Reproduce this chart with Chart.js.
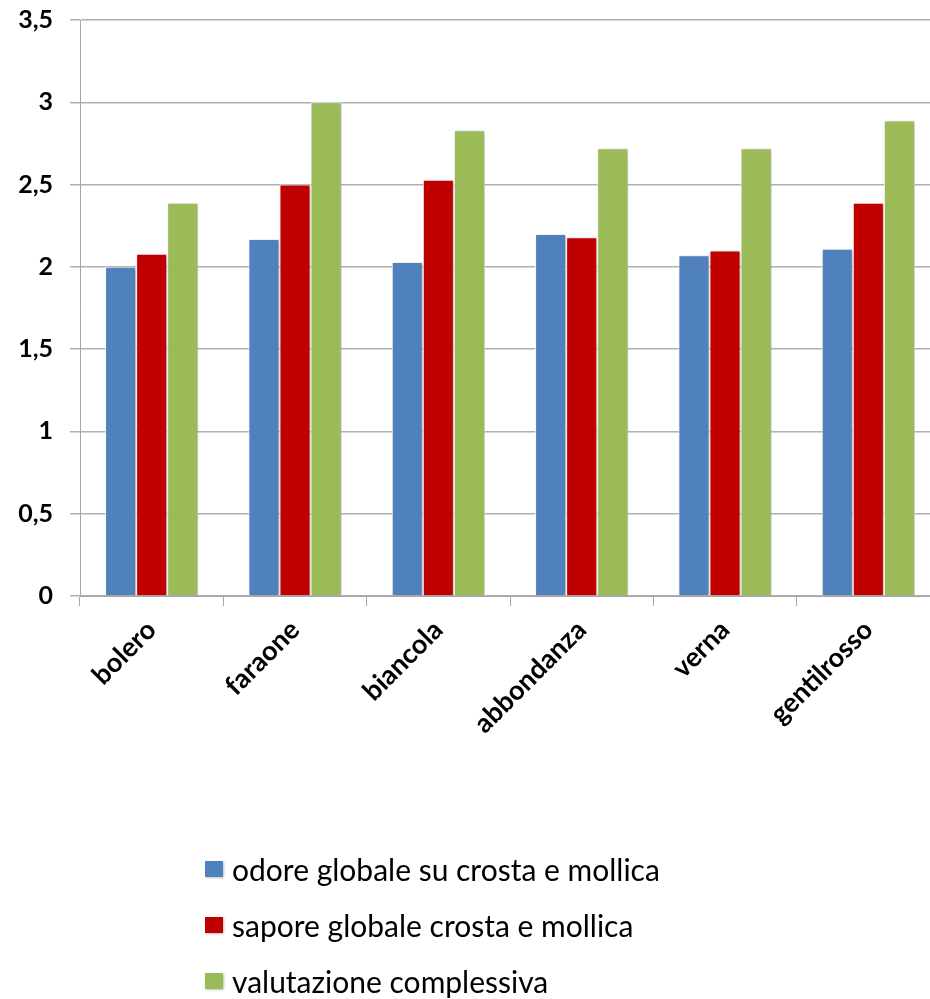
<!DOCTYPE html>
<html>
<head>
<meta charset="utf-8">
<script src="https://cdn.jsdelivr.net/npm/chart.js@4/dist/chart.umd.min.js"></script>
<style>
  html, body { margin: 0; padding: 0; background: #fff; overflow: hidden; }
  #wrap { position: relative; width: 945px; height: 999px; overflow: hidden; }
  #chart { position: absolute; left: 0; top: -12px; }
  #legend { position: absolute; left: 205px; top: 841px; font-family: Lato, "Open Sans", sans-serif; font-size: 30px; color: #000; }
  #legend .item { display: flex; align-items: center; height: 56px; }
  #legend .box { width: 18px; height: 16px; margin-right: 9px; box-shadow: 1px 1px 2px rgba(0,0,0,0.25); }
</style>
</head>
<body>
<div id="wrap">
  <canvas id="chart" width="945" height="1011"></canvas>
  <div id="legend"></div>
</div>
<script>
const categories = ["bolero", "faraone", "biancola", "abbondanza", "verna", "gentilrosso"];
const seriesNames = ["odore globale su crosta e mollica", "sapore globale crosta e mollica", "valutazione complessiva"];
const odore = [2.0, 2.17, 2.03, 2.2, 2.07, 2.11];
const sapore = [2.08, 2.5, 2.53, 2.18, 2.1, 2.39];
const valutazione = [2.39, 3.0, 2.83, 2.72, 2.72, 2.89];
const colors = ["#4F81BD", "#C00000", "#9BBB59"];
const yTicks = [0, 0.5, 1, 1.5, 2, 2.5, 3, 3.5];

const fmt = (v) => v.toString().replace(".", ",");

// ombra leggera sulle barre
const barShadow = {
  id: "barShadow",
  beforeDatasetsDraw(chart) {
    const c = chart.ctx;
    c.save();
    c.shadowColor = "rgba(0,0,0,0.28)";
    c.shadowBlur = 4;
    c.shadowOffsetX = 2;
    c.shadowOffsetY = 1;
  },
  afterDatasetsDraw(chart) {
    chart.ctx.restore();
  },
};

const series = [odore, sapore, valutazione];
const datasets = series.map((d, i) => ({
  label: seriesNames[i],
  data: d,
  backgroundColor: colors[i],
  borderColor: "#ffffff",
  borderWidth: 1,
  barPercentage: 1,
  categoryPercentage: 0.65,
}));

const ctx = document.getElementById("chart").getContext("2d");
const chart = new Chart(ctx, {
  type: "bar",
  data: { labels: categories, datasets: datasets },
  plugins: [barShadow],
  options: {
    responsive: false,
    animation: false,
    layout: { padding: { top: 8, right: 5, left: 0, bottom: 233 } },
    plugins: {
      legend: { display: false },
      tooltip: { enabled: false },
    },
    scales: {
      x: {
        afterFit: (s) => { s.height = 170; },
        grid: { offset: true, drawOnChartArea: false, color: "#a6a6a6", tickLength: 10 },
        border: { color: "#a6a6a6" },
        ticks: {
          color: "#000",
          font: { family: "Lato", weight: "bold", size: 27 },
          maxRotation: 45,
          minRotation: 45,
          padding: 8,
        },
      },
      y: {
        min: 0,
        max: 3.5,
        afterFit: (s) => { s.width = 80; },
        afterBuildTicks: (s) => { s.ticks = yTicks.map((v) => ({ value: v })); },
        grid: { color: "#b0b0b0", tickLength: 10, lineWidth: 1.5 },
        border: { color: "#a6a6a6" },
        ticks: {
          color: "#000",
          font: { family: "Lato", weight: "bold", size: 25 },
          padding: 17,
          callback: (v) => fmt(v),
        },
      },
    },
  },
});

// legenda verticale in HTML
const legend = document.getElementById("legend");
chart.data.datasets.forEach((ds) => {
  const item = document.createElement("div");
  item.className = "item";
  const box = document.createElement("span");
  box.className = "box";
  box.style.background = ds.backgroundColor;
  const txt = document.createElement("span");
  txt.textContent = ds.label;
  item.appendChild(box);
  item.appendChild(txt);
  legend.appendChild(item);
});
</script>
</body>
</html>
